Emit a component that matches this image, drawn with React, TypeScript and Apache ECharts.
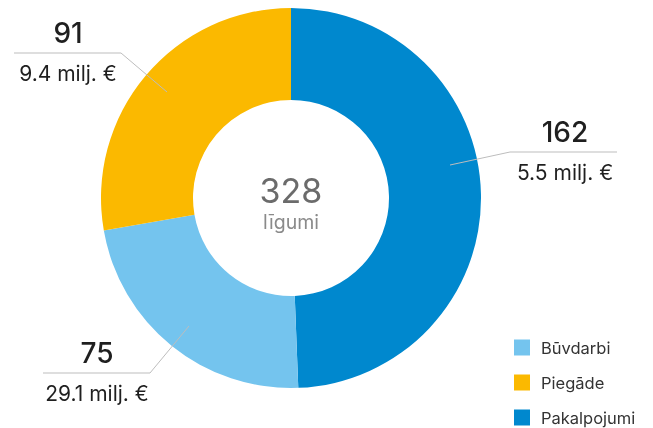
import React, { useEffect, useRef } from "react";
import * as echarts from "echarts";

const categories = ["Pakalpojumi", "Būvdarbi", "Piegāde"];
const contracts = [162, 75, 91];
const amounts = ["5.5 milj. €", "29.1 milj. €", "9.4 milj. €"];
const colors = ["#0088CE", "#74C4EE", "#FBB900"];
const legendOrder = ["Būvdarbi", "Piegāde", "Pakalpojumi"];
const centerLabel = "līgumi";

// label layout (positions only)
const spots = [
  { sx: 450, sy: 165, ex: 510, ly: 152, endX: 617, tx: 565 },
  { sx: 189, sy: 326, ex: 150, ly: 373, endX: 43, tx: 97 },
  { sx: 167, sy: 92, ex: 121, ly: 53, endX: 14, tx: 68 },
];

const FONT = "Inter, 'Open Sans', sans-serif";

export default function App() {
  const ref = useRef<HTMLDivElement>(null);
  useEffect(() => {
    if (!ref.current) return;
    const chart = echarts.init(ref.current, null, { renderer: "svg" });
    const total = contracts.reduce((a, b) => a + b, 0);
    const data = categories.map((c, i) => ({
      name: c,
      value: contracts[i],
      itemStyle: { color: colors[i] },
    }));
    chart.setOption({
      animation: false,
      textStyle: { fontFamily: FONT },
      legend: {
        orient: "vertical",
        left: 514,
        top: 339,
        padding: 0,
        itemWidth: 16,
        itemHeight: 16,
        itemGap: 18,
        icon: "rect",
        data: legendOrder,
        selectedMode: false,
        textStyle: { fontSize: 16.5, color: "#333", fontFamily: FONT, padding: [0, 0, 0, 6] },
      },
      graphic: [
        {
          type: "text",
          x: 291,
          y: 190,
          style: {
            text: String(total),
            align: "center",
            verticalAlign: "middle",
            fontSize: 34,
            fontFamily: FONT,
            fill: "#6b6b6b",
          },
        },
        {
          type: "text",
          x: 291,
          y: 222,
          style: {
            text: centerLabel,
            align: "center",
            verticalAlign: "middle",
            fontSize: 19.5,
            fontFamily: FONT,
            fill: "#8a8a8a",
          },
        },
      ],
      series: [
        {
          type: "pie",
          radius: [98, 190],
          center: [291, 198],
          startAngle: 90,
          clockwise: true,
          silent: true,
          label: { show: false },
          labelLine: { show: false },
          data,
        },
        {
          type: "pie",
          radius: [0, 163],
          center: [291, 198],
          startAngle: 90,
          clockwise: true,
          silent: true,
          z: 5,
          itemStyle: { color: "rgba(0,0,0,0)" },
          data: categories.map((c, i) => ({ name: c + " ", value: contracts[i] })),
          label: {
            show: true,
            position: "outside",
            formatter: (p: any) => `{num|${contracts[p.dataIndex]}}\n{sub|${amounts[p.dataIndex]}}`,
            rich: {
              num: { fontSize: 28, fontWeight: 500, color: "#1f1f1f", lineHeight: 40, align: "center", fontFamily: FONT },
              sub: { fontSize: 21, color: "#1f1f1f", lineHeight: 40, align: "center", fontFamily: FONT },
            },
          },
          labelLine: { show: true, lineStyle: { color: "#bdbdbd", width: 1 } },
          labelLayout: (p: any) => {
            const s = spots[p.dataIndex];
            return {
              x: s.tx,
              y: s.ly,
              align: "center",
              verticalAlign: "middle",
              labelLinePoints: [
                [s.sx, s.sy],
                [s.ex, s.ly],
                [s.endX, s.ly],
              ],
            };
          },
        },
      ],
    });
    return () => chart.dispose();
  }, []);
  return (
    <div
      ref={ref}
      style={{ position: "fixed", left: 0, top: 0, width: 653, height: 428 }}
    />
  );
}
